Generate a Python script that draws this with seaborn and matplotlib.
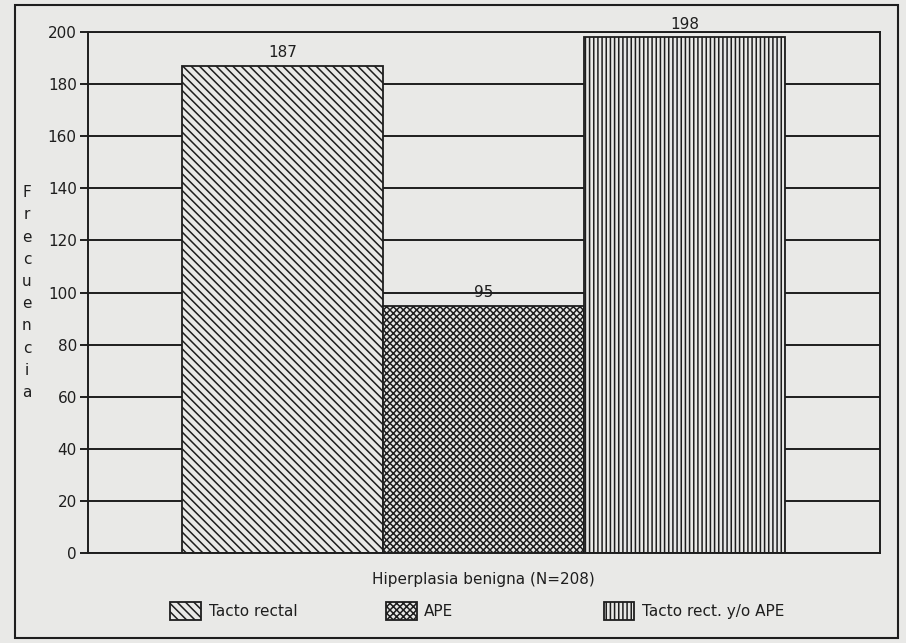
import seaborn as sns
import matplotlib.pyplot as plt
import pandas as pd
from matplotlib.patches import Rectangle

# datos
grupo = ["Hiperplasia benigna (N=208)"] * 3
prueba = ["Tacto rectal", "APE", "Tacto rect. y/o APE"]
frecuencia = [187, 95, 198]
tramas = ["\\\\\\\\", "xxxxx", "||||"]
yticks = list(range(0, 201, 20))

df = pd.DataFrame({"grupo": grupo, "prueba": prueba, "frecuencia": frecuencia})

papel = "#e9e9e7"
tinta = "#1e1e1e"

sns.set_style("white")
plt.rcParams["font.family"] = ["DejaVu Sans"]
plt.rcParams["hatch.linewidth"] = 1.1
plt.rcParams["hatch.color"] = tinta

fig = plt.figure(figsize=(9.06, 6.43), dpi=100, facecolor=papel)
ax = fig.add_axes([0.097, 0.14, 0.874, 0.81])
ax.set_facecolor(papel)

sns.barplot(data=df, x="grupo", y="frecuencia", hue="prueba",
            palette=[papel] * 3, edgecolor=tinta, linewidth=1.3,
            legend=False, ax=ax, width=0.8)

for cont, trama in zip(ax.containers, tramas):
    for barra in cont:
        barra.set_hatch(trama)
        barra.set_edgecolor(tinta)
    ax.bar_label(cont, padding=4, fontsize=11, color=tinta)

ax.set_xlim(-0.525, 0.525)
ax.set_ylim(0, 200)
ax.set_yticks(yticks)
ax.yaxis.grid(True, color=tinta, linewidth=1.4)
ax.set_axisbelow(True)
for s in ax.spines.values():
    s.set_visible(True)
    s.set_color(tinta)
    s.set_linewidth(1.4)
ax.tick_params(axis="y", length=6, width=1.4, color=tinta, labelsize=11,
               labelcolor=tinta, direction="out", left=True, pad=2)
ax.tick_params(axis="x", length=0, pad=14, labelsize=11, labelcolor=tinta)
ax.set_xlabel("")
ax.set_ylabel("\n".join("Frecuencia"), rotation=0, fontsize=11, color=tinta,
              linespacing=1.6, va="center", ha="center")
ax.yaxis.set_label_coords(-0.077, 0.5)

# leyenda: una entrada en cada posicion
posiciones = [0.173, 0.411, 0.651]
for cont, nombre, xpos in zip(ax.containers, prueba, posiciones):
    fig.legend(handles=[cont], labels=[nombre], loc="center left",
               bbox_to_anchor=(xpos, 0.05), frameon=False, fontsize=11,
               handlelength=2.0, handleheight=1.4, handletextpad=0.5,
               labelcolor=tinta)

fig.patches.append(Rectangle((0.017, 0.007), 0.974, 0.985, transform=fig.transFigure,
                             fill=False, edgecolor=tinta, linewidth=1.5))

fig.savefig("out.png", dpi=100, facecolor=papel)
